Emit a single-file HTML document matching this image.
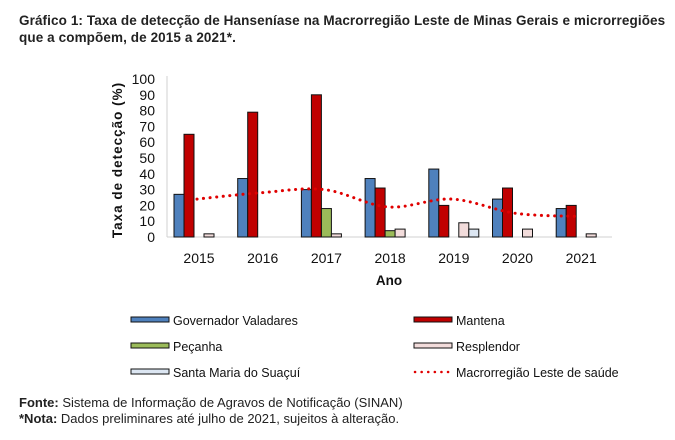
<!DOCTYPE html>
<html><head><meta charset="utf-8">
<style>
body{margin:0;background:#fff;width:675px;height:440px;overflow:hidden;font-family:"Liberation Sans",sans-serif;}
.t{position:absolute;left:19px;top:12px;font-size:13.5px;font-weight:bold;color:#222;line-height:17px;letter-spacing:0.1px;}
.f{position:absolute;left:19px;font-size:13px;color:#222;}
</style></head><body>
<div class="t">Gráfico 1: Taxa de detecção de Hanseníase na Macrorregião Leste de Minas Gerais e microrregiões<br>que a compõem, de 2015 a 2021*.</div>
<svg id="c" width="675" height="440" style="position:absolute;left:0;top:0"></svg>
<div class="f" style="top:395px"><b>Fonte:</b> Sistema de Informação de Agravos de Notificação (SINAN)</div>
<div class="f" style="top:411px"><b>*Nota:</b> Dados preliminares até julho de 2021, sujeitos à alteração.</div>
<script>
const years=["2015","2016","2017","2018","2019","2020","2021"];
const govValadares=[27,37,30,37,43,24,18];
const mantena=[65,79,90,31,20,31,20];
const pecanha=[0,0,18,4,0,0,0];
const resplendor=[2,0,2,5,9,5,2];
const santaMaria=[0,0,0,0,5,0,0];
const macro=[24,28,30,19,24,15,13];
const yTicks=[0,10,20,30,40,50,60,70,80,90,100];
const series=[{n:"Governador Valadares",v:govValadares,c:"#4f81bd"},{n:"Mantena",v:mantena,c:"#c00000"},{n:"Peçanha",v:pecanha,c:"#9bbb59"},{n:"Resplendor",v:resplendor,c:"#f2dcdb"},{n:"Santa Maria do Suaçuí",v:santaMaria,c:"#dce6f2"}];
const svg=document.getElementById('c');const NS="http://www.w3.org/2000/svg";
function el(t,a,p){const e=document.createElementNS(NS,t);for(const k in a)e.setAttribute(k,a[k]);(p||svg).appendChild(e);return e;}
const y0=237,y1=79,xL=167,xR=612,gw=63.7,gc0=199,bw=10;
const ys=v=>y0-(v/100)*(y0-y1);
const xc=i=>gc0+i*gw;
let ax=el('line',{x1:xL,y1:y1-3,x2:xL,y2:y0,stroke:'#d0d0d0'});

let bx=el('line',{x1:xL,y1:y0,x2:xR,y2:y0,stroke:'#d0d0d0'});

yTicks.forEach(t=>{const e=el('text',{x:155,y:ys(t)+5,'text-anchor':'end','font-size':14,fill:'#111'});e.textContent=t;
});
years.forEach((yr,i)=>{const e=el('text',{x:xc(i),y:263,'text-anchor':'middle','font-size':14,fill:'#111'});e.textContent=yr;

series.forEach((s,k)=>{const v=s.v[i];if(!v)return;const x=xc(i)-25+k*bw;
const r=el('rect',{x:x,y:ys(v),width:bw,height:y0-ys(v),fill:s.c,stroke:'#111','stroke-width':1});
});});
const pts=macro.map((v,i)=>[xc(i)-2,ys(v)]);
let d=`M${pts[0][0]},${pts[0][1]}`;
for(let i=0;i<pts.length-1;i++){const p0=pts[Math.max(0,i-1)],p1=pts[i],p2=pts[i+1],p3=pts[Math.min(pts.length-1,i+2)];
d+=` C${p1[0]+(p2[0]-p0[0])/6},${p1[1]+(p2[1]-p0[1])/6} ${p2[0]-(p3[0]-p1[0])/6},${p2[1]-(p3[1]-p1[1])/6} ${p2[0]},${p2[1]}`;}
const ln=el('path',{d:d,fill:'none',stroke:'#e00000','stroke-width':3,'stroke-dasharray':'0.1 6.5','stroke-linecap':'round'});

const yt=el('text',{x:0,y:0,transform:'translate(122,160) rotate(-90)','text-anchor':'middle','font-size':13.5,'font-weight':'bold','letter-spacing':1,fill:'#111'});yt.textContent='Taxa de detecção (%)';

const xt=el('text',{x:389,y:285,'text-anchor':'middle','font-size':13.5,'font-weight':'bold',fill:'#111'});xt.textContent='Ano';

const leg=[[131,320,0],[414,320,1],[131,346,2],[414,346,3],[131,372,4]];
leg.forEach(([x,y,k])=>{const s=series[k];
const r=el('rect',{x:x,y:y-3,width:38,height:5,fill:s.c,stroke:'#111','stroke-width':1});

const t=el('text',{x:x+42,y:y+5,'font-size':12.5,fill:'#111'});t.textContent=s.n;
});
const ll=el('line',{x1:415,y1:372,x2:452,y2:372,stroke:'#e00000','stroke-width':2.5,'stroke-dasharray':'0.1 6.5','stroke-linecap':'round'});

const lt=el('text',{x:456,y:377,'font-size':12.5,fill:'#111'});lt.textContent='Macrorregião Leste de saúde';

</script>
</body></html>
